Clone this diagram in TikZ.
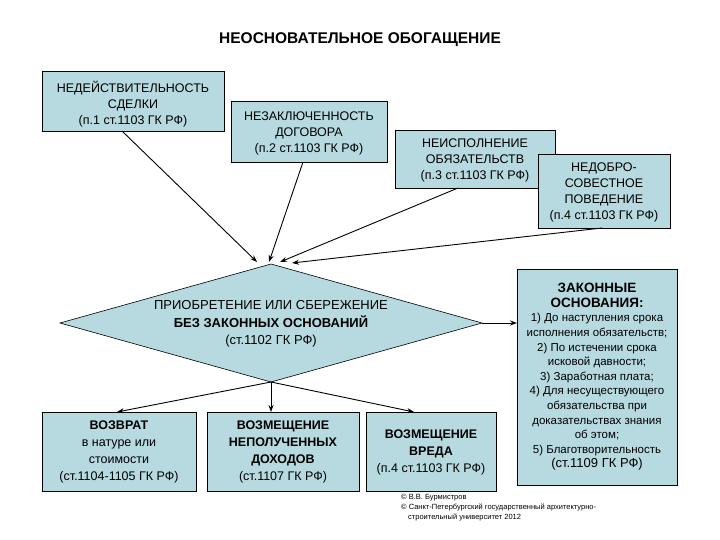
\documentclass[tikz,border=0pt]{standalone}
\usepackage{fontspec}
\setmainfont{Liberation Sans}
\usetikzlibrary{shapes.geometric,arrows.meta}
\definecolor{boxc}{RGB}{182,218,224}
\begin{document}
\begin{tikzpicture}[x=1pt,y=-1pt,
  bx/.style={draw=black,fill=boxc,line width=0.6pt,inner sep=0pt},
  tx/.style={align=center,font=\fontsize{12.5}{16}\selectfont},
  ar/.style={-{Stealth[length=7pt,width=5pt]},line width=0.9pt}]
\useasboundingbox (0,0) rectangle (720,540);
\node[font=\bfseries\fontsize{15.5}{18}\selectfont] (title) at (360,40) {НЕОСНОВАТЕЛЬНОЕ ОБОГАЩЕНИЕ};
\draw[bx] (42,71) rectangle (224,131);
\node[tx] (a) at (133,104) {НЕДЕЙСТВИТЕЛЬНОСТЬ\\СДЕЛКИ\\(п.1 ст.1103 ГК РФ)};
\draw[bx] (231,101) rectangle (387,162);
\node[tx] (b) at (309,133) {НЕЗАКЛЮЧЕННОСТЬ\\ДОГОВОРА\\(п.2 ст.1103 ГК РФ)};
\draw[bx] (395,130) rectangle (555,188);
\node[tx] (c) at (475,160) {НЕИСПОЛНЕНИЕ\\ОБЯЗАТЕЛЬСТВ\\(п.3 ст.1103 ГК РФ)};
\draw[bx] (538,154) rectangle (670,228);
\node[tx] (d) at (604,192) {НЕДОБРО-\\СОВЕСТНОЕ\\ПОВЕДЕНИЕ\\(п.4 ст.1103 ГК РФ)};
\draw[bx] (271,264) -- (482,323) -- (271,382) -- (60,323) -- cycle;
\node[align=center,font=\fontsize{13}{17.5}\selectfont] (p) at (271,324) {ПРИОБРЕТЕНИЕ ИЛИ СБЕРЕЖЕНИЕ\\\textbf{БЕЗ ЗАКОННЫХ ОСНОВАНИЙ}\\(ст.1102 ГК РФ)};
\coordinate (ptop) at (271,264);
\coordinate (pbot) at (271,382);
\coordinate (pright) at (482,323);
\draw[bx] (42,412) rectangle (196,491);
\node[tx,font=\fontsize{12.5}{17}\selectfont] (e) at (119,452) {\textbf{ВОЗВРАТ}\\в натуре или\\стоимости\\(ст.1104-1105 ГК РФ)};
\draw[bx] (207,412) rectangle (359,491);
\node[tx,font=\fontsize{12.5}{17}\selectfont] (f) at (283,452) {\textbf{ВОЗМЕЩЕНИЕ}\\\textbf{НЕПОЛУЧЕННЫХ}\\\textbf{ДОХОДОВ}\\(ст.1107 ГК РФ)};
\draw[bx] (366,412) rectangle (496,491);
\node[tx,font=\fontsize{12.5}{17}\selectfont] (g) at (431,452) {\textbf{ВОЗМЕЩЕНИЕ}\\\textbf{ВРЕДА}\\(п.4 ст.1103 ГК РФ)};
\draw[bx] (517,269) rectangle (677,485);
\node[align=center,font=\fontsize{11.5}{14.6}\selectfont] (h) at (597,377) {\textbf{\fontsize{13.5}{16.5}\selectfont ЗАКОННЫЕ}\\\textbf{\fontsize{13.5}{16.5}\selectfont ОСНОВАНИЯ:}\\1) До наступления срока\\исполнения обязательств;\\2) По истечении срока\\исковой давности;\\3) Заработная плата;\\4) Для несуществующего\\обязательства при\\доказательствах знания\\об этом;\\5) Благотворительность\\\fontsize{13}{16}\selectfont (ст.1109 ГК РФ)};
\coordinate (a1) at (122,131); \coordinate (b1) at (303,162);
\coordinate (c1) at (458,188); \coordinate (d1) at (602,228);
\draw[ar] (a1) -- (257,262);
\draw[ar] (b1) -- (269,262);
\draw[ar] (c1) -- (280,262);
\draw[ar] (d1) -- (292,263);
\draw[ar] (pright) -- (517,323);
\draw[ar] (pbot) -- (117,412);
\draw[ar] (pbot) -- (271,412);
\draw[ar] (pbot) -- (414,412);
\node[align=left,font=\fontsize{7.5}{10}\selectfont,anchor=north west,inner sep=0pt] (cr) at (401,494) {© В.В. Бурмистров\\© Санкт-Петербургский государственный архитектурно-\\\hspace*{7pt}строительный университет 2012};
\end{tikzpicture}
\end{document}
